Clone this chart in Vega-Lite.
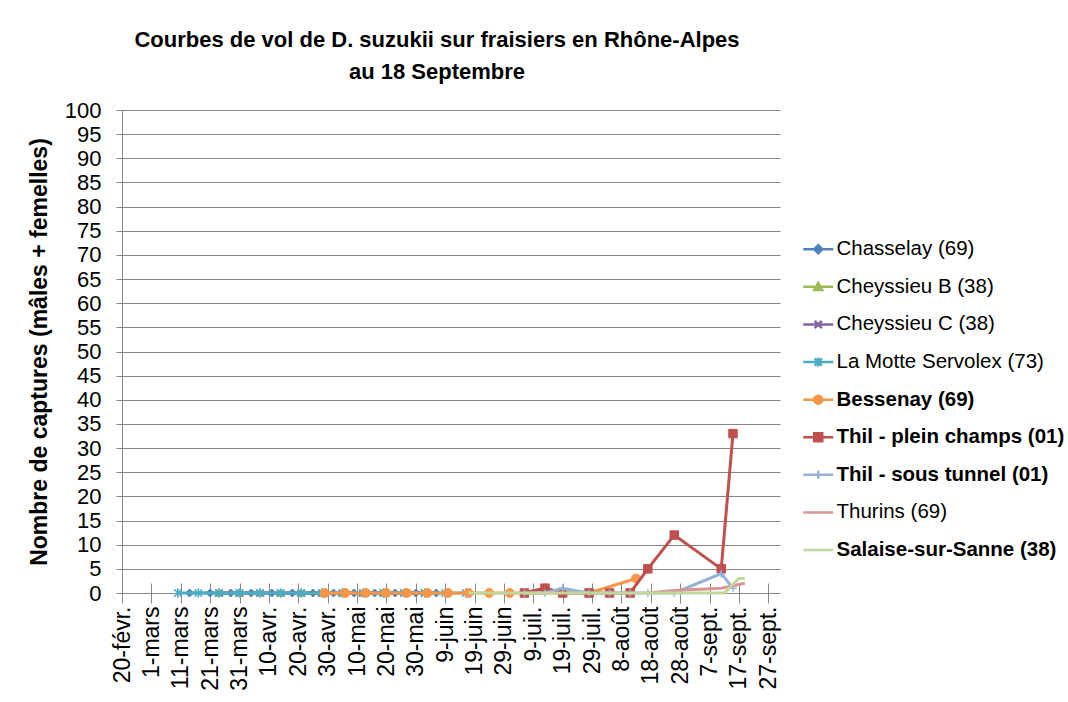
{
  "$schema": "https://vega.github.io/schema/vega-lite/v6.json",
  "width": 658,
  "height": 483,
  "autosize": {"type": "none"},
  "padding": {"left": 122, "top": 110, "right": 288, "bottom": 109},
  "background": "white",
  "config": {
    "font": "Liberation Sans",
    "view": {"stroke": null}
  },
  "title": {
    "text": ["Courbes de vol de D. suzukii sur fraisiers en Rhône-Alpes", "au 18 Septembre"],
    "fontSize": 22,
    "fontWeight": "bold",
    "color": "black",
    "anchor": "middle",
    "offset": 15,
    "dx": -14,
    "lineHeight": 32
  },
  "data": {
    "values": [
      {"series": "Chasselay (69)", "date": "2012-03-14", "v": 0},
      {"series": "Chasselay (69)", "date": "2012-03-21", "v": 0},
      {"series": "Chasselay (69)", "date": "2012-03-28", "v": 0},
      {"series": "Chasselay (69)", "date": "2012-04-04", "v": 0},
      {"series": "Chasselay (69)", "date": "2012-04-11", "v": 0},
      {"series": "Chasselay (69)", "date": "2012-04-18", "v": 0},
      {"series": "Chasselay (69)", "date": "2012-04-25", "v": 0},
      {"series": "Chasselay (69)", "date": "2012-05-02", "v": 0},
      {"series": "Chasselay (69)", "date": "2012-05-09", "v": 0},
      {"series": "Chasselay (69)", "date": "2012-05-16", "v": 0},
      {"series": "Chasselay (69)", "date": "2012-05-23", "v": 0},
      {"series": "Chasselay (69)", "date": "2012-05-30", "v": 0},
      {"series": "Chasselay (69)", "date": "2012-06-06", "v": 0},
      {"series": "Cheyssieu B (38)", "date": "2012-03-24", "v": 0},
      {"series": "Cheyssieu B (38)", "date": "2012-03-31", "v": 0},
      {"series": "Cheyssieu B (38)", "date": "2012-04-07", "v": 0},
      {"series": "Cheyssieu B (38)", "date": "2012-04-14", "v": 0},
      {"series": "Cheyssieu B (38)", "date": "2012-04-21", "v": 0},
      {"series": "Cheyssieu B (38)", "date": "2012-04-28", "v": 0},
      {"series": "Cheyssieu B (38)", "date": "2012-05-05", "v": 0},
      {"series": "Cheyssieu B (38)", "date": "2012-05-12", "v": 0},
      {"series": "Cheyssieu B (38)", "date": "2012-05-19", "v": 0},
      {"series": "Cheyssieu C (38)", "date": "2012-03-24", "v": 0},
      {"series": "Cheyssieu C (38)", "date": "2012-03-31", "v": 0},
      {"series": "Cheyssieu C (38)", "date": "2012-04-07", "v": 0},
      {"series": "Cheyssieu C (38)", "date": "2012-04-14", "v": 0},
      {"series": "Cheyssieu C (38)", "date": "2012-04-21", "v": 0},
      {"series": "Cheyssieu C (38)", "date": "2012-04-28", "v": 0},
      {"series": "Cheyssieu C (38)", "date": "2012-05-05", "v": 0},
      {"series": "Cheyssieu C (38)", "date": "2012-05-12", "v": 0},
      {"series": "Cheyssieu C (38)", "date": "2012-05-19", "v": 0},
      {"series": "Cheyssieu C (38)", "date": "2012-05-26", "v": 0},
      {"series": "Cheyssieu C (38)", "date": "2012-06-02", "v": 0},
      {"series": "La Motte Servolex (73)", "date": "2012-03-10", "v": 0},
      {"series": "La Motte Servolex (73)", "date": "2012-03-17", "v": 0},
      {"series": "La Motte Servolex (73)", "date": "2012-03-24", "v": 0},
      {"series": "La Motte Servolex (73)", "date": "2012-03-31", "v": 0},
      {"series": "La Motte Servolex (73)", "date": "2012-04-07", "v": 0},
      {"series": "La Motte Servolex (73)", "date": "2012-04-14", "v": 0},
      {"series": "La Motte Servolex (73)", "date": "2012-04-21", "v": 0},
      {"series": "La Motte Servolex (73)", "date": "2012-04-28", "v": 0},
      {"series": "La Motte Servolex (73)", "date": "2012-05-05", "v": 0},
      {"series": "La Motte Servolex (73)", "date": "2012-05-12", "v": 0},
      {"series": "La Motte Servolex (73)", "date": "2012-05-19", "v": 0},
      {"series": "La Motte Servolex (73)", "date": "2012-05-26", "v": 0},
      {"series": "La Motte Servolex (73)", "date": "2012-06-02", "v": 0},
      {"series": "La Motte Servolex (73)", "date": "2012-06-09", "v": 0},
      {"series": "La Motte Servolex (73)", "date": "2012-06-16", "v": 0},
      {"series": "Bessenay (69)", "date": "2012-04-29", "v": 0},
      {"series": "Bessenay (69)", "date": "2012-05-06", "v": 0},
      {"series": "Bessenay (69)", "date": "2012-05-13", "v": 0},
      {"series": "Bessenay (69)", "date": "2012-05-20", "v": 0},
      {"series": "Bessenay (69)", "date": "2012-05-27", "v": 0},
      {"series": "Bessenay (69)", "date": "2012-06-03", "v": 0},
      {"series": "Bessenay (69)", "date": "2012-06-10", "v": 0},
      {"series": "Bessenay (69)", "date": "2012-06-17", "v": 0},
      {"series": "Bessenay (69)", "date": "2012-06-24", "v": 0},
      {"series": "Bessenay (69)", "date": "2012-07-01", "v": 0},
      {"series": "Bessenay (69)", "date": "2012-07-28", "v": 0},
      {"series": "Bessenay (69)", "date": "2012-08-13", "v": 3},
      {"series": "Thil - plein champs (01)", "date": "2012-07-06", "v": 0},
      {"series": "Thil - plein champs (01)", "date": "2012-07-13", "v": 1},
      {"series": "Thil - plein champs (01)", "date": "2012-07-19", "v": 0},
      {"series": "Thil - plein champs (01)", "date": "2012-07-28", "v": 0},
      {"series": "Thil - plein champs (01)", "date": "2012-08-04", "v": 0},
      {"series": "Thil - plein champs (01)", "date": "2012-08-11", "v": 0},
      {"series": "Thil - plein champs (01)", "date": "2012-08-17", "v": 5},
      {"series": "Thil - plein champs (01)", "date": "2012-08-26", "v": 12},
      {"series": "Thil - plein champs (01)", "date": "2012-09-11", "v": 5},
      {"series": "Thil - plein champs (01)", "date": "2012-09-15", "v": 33},
      {"series": "Thil - sous tunnel (01)", "date": "2012-07-06", "v": 0},
      {"series": "Thil - sous tunnel (01)", "date": "2012-07-13", "v": 0},
      {"series": "Thil - sous tunnel (01)", "date": "2012-07-19", "v": 1},
      {"series": "Thil - sous tunnel (01)", "date": "2012-07-28", "v": 0},
      {"series": "Thil - sous tunnel (01)", "date": "2012-08-04", "v": 0},
      {"series": "Thil - sous tunnel (01)", "date": "2012-08-11", "v": 0},
      {"series": "Thil - sous tunnel (01)", "date": "2012-08-17", "v": 0},
      {"series": "Thil - sous tunnel (01)", "date": "2012-08-26", "v": 0},
      {"series": "Thil - sous tunnel (01)", "date": "2012-09-11", "v": 4},
      {"series": "Thil - sous tunnel (01)", "date": "2012-09-15", "v": 1},
      {"series": "Thurins (69)", "date": "2012-08-17", "v": 0},
      {"series": "Thurins (69)", "date": "2012-08-26", "v": 0.5},
      {"series": "Thurins (69)", "date": "2012-09-11", "v": 1},
      {"series": "Thurins (69)", "date": "2012-09-19", "v": 2},
      {"series": "Salaise-sur-Sanne  (38)", "date": "2012-06-17", "v": 0},
      {"series": "Salaise-sur-Sanne  (38)", "date": "2012-06-24", "v": 0},
      {"series": "Salaise-sur-Sanne  (38)", "date": "2012-07-01", "v": 0},
      {"series": "Salaise-sur-Sanne  (38)", "date": "2012-07-08", "v": 0},
      {"series": "Salaise-sur-Sanne  (38)", "date": "2012-07-15", "v": 0},
      {"series": "Salaise-sur-Sanne  (38)", "date": "2012-07-22", "v": 0},
      {"series": "Salaise-sur-Sanne  (38)", "date": "2012-07-29", "v": 0},
      {"series": "Salaise-sur-Sanne  (38)", "date": "2012-08-05", "v": 0},
      {"series": "Salaise-sur-Sanne  (38)", "date": "2012-08-12", "v": 0},
      {"series": "Salaise-sur-Sanne  (38)", "date": "2012-08-19", "v": 0},
      {"series": "Salaise-sur-Sanne  (38)", "date": "2012-08-26", "v": 0},
      {"series": "Salaise-sur-Sanne  (38)", "date": "2012-09-02", "v": 0},
      {"series": "Salaise-sur-Sanne  (38)", "date": "2012-09-12", "v": 0},
      {"series": "Salaise-sur-Sanne  (38)", "date": "2012-09-17", "v": 3},
      {"series": "Salaise-sur-Sanne  (38)", "date": "2012-09-19", "v": 3}
    ]
  },
  "encoding": {
    "x": {
      "field": "date",
      "type": "temporal",
      "scale": {
        "type": "utc",
        "domain": [
          {"year": 2012, "month": 2, "date": 20, "utc": true},
          {"year": 2012, "month": 10, "date": 1, "utc": true}
        ]
      },
      "axis": {
        "values": [
          {"year": 2012, "month": 2, "date": 20, "utc": true},
          {"year": 2012, "month": 3, "date": 1, "utc": true},
          {"year": 2012, "month": 3, "date": 11, "utc": true},
          {"year": 2012, "month": 3, "date": 21, "utc": true},
          {"year": 2012, "month": 3, "date": 31, "utc": true},
          {"year": 2012, "month": 4, "date": 10, "utc": true},
          {"year": 2012, "month": 4, "date": 20, "utc": true},
          {"year": 2012, "month": 4, "date": 30, "utc": true},
          {"year": 2012, "month": 5, "date": 10, "utc": true},
          {"year": 2012, "month": 5, "date": 20, "utc": true},
          {"year": 2012, "month": 5, "date": 30, "utc": true},
          {"year": 2012, "month": 6, "date": 9, "utc": true},
          {"year": 2012, "month": 6, "date": 19, "utc": true},
          {"year": 2012, "month": 6, "date": 29, "utc": true},
          {"year": 2012, "month": 7, "date": 9, "utc": true},
          {"year": 2012, "month": 7, "date": 19, "utc": true},
          {"year": 2012, "month": 7, "date": 29, "utc": true},
          {"year": 2012, "month": 8, "date": 8, "utc": true},
          {"year": 2012, "month": 8, "date": 18, "utc": true},
          {"year": 2012, "month": 8, "date": 28, "utc": true},
          {"year": 2012, "month": 9, "date": 7, "utc": true},
          {"year": 2012, "month": 9, "date": 17, "utc": true},
          {"year": 2012, "month": 9, "date": 27, "utc": true}
        ],
        "labelExpr": "utcdate(datum.value) + '-' + ['janv.','févr.','mars','avr.','mai','juin','juil.','août','sept.','oct.','nov.','déc.'][utcmonth(datum.value)]",
        "labelAngle": -90,
        "labelFontSize": 23,
        "labelColor": "black",
        "labelOverlap": false,
        "labelBound": false,
        "labelPadding": 3,
        "tickSize": 20,
        "tickColor": "#868686",
        "offset": -10,
        "domain": false,
        "grid": false,
        "title": null
      }
    },
    "y": {
      "field": "v",
      "type": "quantitative",
      "scale": {"domain": [0, 100], "nice": false},
      "axis": {
        "values": [0, 5, 10, 15, 20, 25, 30, 35, 40, 45, 50, 55, 60, 65, 70, 75, 80, 85, 90, 95, 100],
        "title": "Nombre de captures (mâles + femelles)",
        "titleFontSize": 23,
        "titleFontWeight": "bold",
        "titleColor": "black",
        "titlePadding": 13,
        "labelFontSize": 22,
        "labelColor": "black",
        "labelPadding": 15,
        "grid": true,
        "gridColor": "#868686",
        "domainColor": "#868686",
        "tickColor": "#868686",
        "tickSize": 6
      }
    },
    "color": {
      "field": "series",
      "type": "nominal",
      "scale": {
        "domain": ["Chasselay (69)", "Cheyssieu B (38)", "Cheyssieu C (38)", "La Motte Servolex (73)", "Bessenay (69)", "Thil - plein champs (01)", "Thil - sous tunnel (01)", "Thurins (69)", "Salaise-sur-Sanne  (38)"],
        "range": ["#4F81BD", "#9BBB59", "#8064A2", "#4BACC6", "#F79646", "#C0504D", "#95B3D7", "#D99694", "#C3D69B"]
      },
      "legend": {
        "title": null,
        "orient": "none",
        "legendX": 686,
        "legendY": 129,
        "padding": 0,
        "labelFontSize": 20.5,
        "labelColor": "black",
        "labelOffset": 8,
        "labelLimit": 400,
        "symbolSize": 64,
        "symbolStrokeWidth": 2.5,
        "rowPadding": 16.6,
        "encoding": {
          "symbols": {
            "shape": {"value": {"expr": "{'Chasselay (69)':'M-3.75,0H3.75M0,-1L1,0L0,1L-1,0Z','Cheyssieu B (38)':'M-3.75,0H3.75M0,-1L1,0.8L-1,0.8Z','Cheyssieu C (38)':'M-3.75,0H3.75M-0.9,-0.9L0.9,0.9M-0.9,0.9L0.9,-0.9','La Motte Servolex (73)':'M-3.75,0H3.75M-0.9,-0.9L0.9,0.9M-0.9,0.9L0.9,-0.9M0,-1.1V1.1','Bessenay (69)':'M-3.75,0H3.75M1,0A1,1,0,1,1,-1,0A1,1,0,1,1,1,0Z','Thil - plein champs (01)':'M-3.75,0H3.75M-1,-1H1V1H-1Z','Thil - sous tunnel (01)':'M-3.75,0H3.75M0,-1V1'}[datum.value] || 'M-3.75,0H3.75'"}},
            "fill": {"value": {"expr": "scale('color', datum.value)"}},
            "stroke": {"value": {"expr": "scale('color', datum.value)"}},
            "strokeWidth": {"value": 2.5},
            "opacity": {"value": 1}
          },
          "labels": {
            "fontWeight": {
              "condition": {"test": "indexof(['Bessenay (69)','Thil - plein champs (01)','Thil - sous tunnel (01)','Salaise-sur-Sanne  (38)'], datum.value) >= 0", "value": "bold"},
              "value": "normal"
            }
          }
        }
      }
    }
  },
  "layer": [
    {"transform": [{"filter": "datum.series === 'Chasselay (69)'"}], "mark": {"type": "line", "strokeWidth": 3}},
    {"transform": [{"filter": "datum.series === 'Chasselay (69)'"}], "mark": {"type": "point", "shape": "M0,-1L1,0L0,1L-1,0Z", "filled": true, "size": 64, "stroke": "#4F81BD", "strokeWidth": 1, "opacity": 1}},
    {"transform": [{"filter": "datum.series === 'Cheyssieu B (38)'"}], "mark": {"type": "line", "strokeWidth": 3}},
    {"transform": [{"filter": "datum.series === 'Cheyssieu B (38)'"}], "mark": {"type": "point", "shape": "M0,-1L1,0.75L-1,0.75Z", "filled": true, "size": 72, "stroke": "#9BBB59", "strokeWidth": 1, "opacity": 1}},
    {"transform": [{"filter": "datum.series === 'Cheyssieu C (38)'"}], "mark": {"type": "line", "strokeWidth": 3}},
    {"transform": [{"filter": "datum.series === 'Cheyssieu C (38)'"}], "mark": {"type": "point", "shape": "M-1,-1L1,1M-1,1L1,-1", "filled": true, "size": 42, "stroke": "#8064A2", "strokeWidth": 1.5, "opacity": 1}},
    {"transform": [{"filter": "datum.series === 'La Motte Servolex (73)'"}], "mark": {"type": "line", "strokeWidth": 3}},
    {"transform": [{"filter": "datum.series === 'La Motte Servolex (73)'"}], "mark": {"type": "point", "shape": "M-1,-1L1,1M-1,1L1,-1M0,-1.3V1.3", "filled": true, "size": 56, "stroke": "#4BACC6", "strokeWidth": 1.5, "opacity": 1}},
    {"transform": [{"filter": "datum.series === 'Bessenay (69)'"}], "mark": {"type": "line", "strokeWidth": 3}},
    {"transform": [{"filter": "datum.series === 'Bessenay (69)'"}], "mark": {"type": "point", "shape": "circle", "filled": true, "size": 80, "stroke": "#F79646", "strokeWidth": 1, "opacity": 1}},
    {"transform": [{"filter": "datum.series === 'Thil - plein champs (01)'"}], "mark": {"type": "line", "strokeWidth": 3}},
    {"transform": [{"filter": "datum.series === 'Thil - plein champs (01)'"}], "mark": {"type": "point", "shape": "square", "filled": true, "size": 72, "stroke": "#C0504D", "strokeWidth": 1, "opacity": 1}},
    {"transform": [{"filter": "datum.series === 'Thil - sous tunnel (01)'"}], "mark": {"type": "line", "strokeWidth": 3}},
    {"transform": [{"filter": "datum.series === 'Thil - sous tunnel (01)'"}], "mark": {"type": "point", "shape": "M-1,0H1M0,-1V1", "filled": true, "size": 56, "stroke": "#95B3D7", "strokeWidth": 1.5, "opacity": 1}},
    {"transform": [{"filter": "datum.series === 'Thurins (69)'"}], "mark": {"type": "line", "strokeWidth": 3}},
    {"transform": [{"filter": "datum.series === 'Salaise-sur-Sanne  (38)'"}], "mark": {"type": "line", "strokeWidth": 3}}
  ]
}
